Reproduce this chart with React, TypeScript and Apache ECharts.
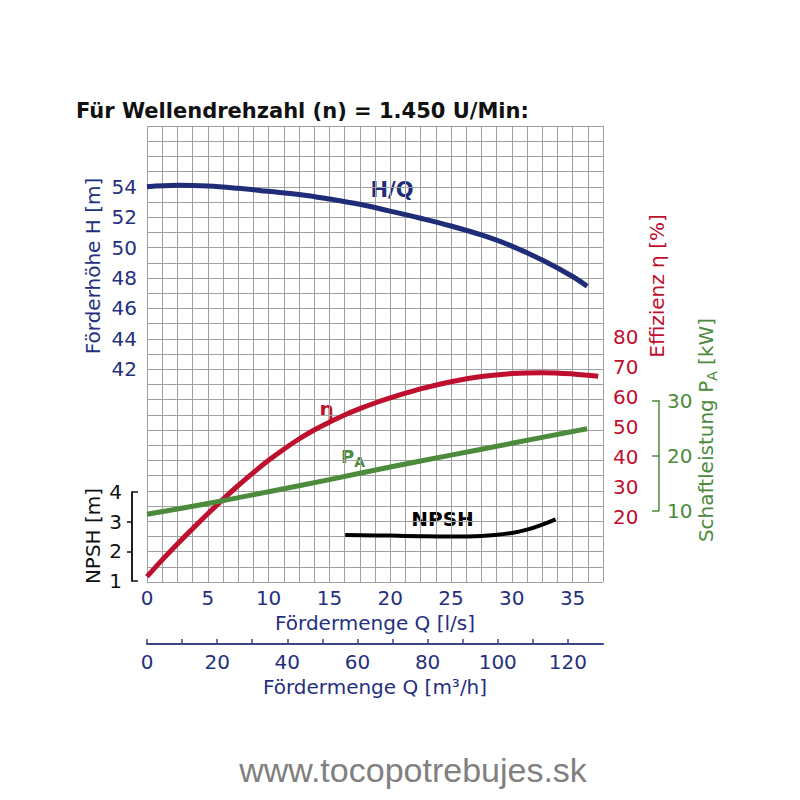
import React, { useEffect, useRef } from "react";
import * as echarts from "echarts";

// ---- data ----
const hqFlow = [0, 2.5, 5, 7.5, 10, 12.5, 15, 17.5, 20, 22.5, 25, 27.5, 30, 32.5, 35, 36.2];
const hqHead = [54.0, 54.1, 54.05, 53.9, 53.7, 53.5, 53.2, 52.85, 52.4, 51.93, 51.42, 50.83, 50.1, 49.18, 48.1, 47.45];

const effFlow = [0, 1.25, 2.5, 3.75, 5, 6.25, 7.5, 8.75, 10, 11.25, 12.5, 13.75, 15, 16.25, 17.5, 18.75, 20, 22.5, 25, 27.5, 30, 32.5, 35, 37.1];
const effValue = [0, 5.6, 10.9, 16.0, 21.0, 25.8, 30.4, 34.7, 38.8, 42.5, 45.9, 48.9, 51.5, 53.9, 56.0, 57.9, 59.6, 62.6, 65.0, 66.7, 67.7, 68.0, 67.6, 66.8];

const powerFlow = [0, 5, 10, 15, 20, 25, 30, 35, 36.2];
const powerKw = [9.35, 11.3, 13.45, 15.65, 17.95, 20.1, 22.25, 24.4, 24.9];

const npshFlow = [16.3, 20, 22.5, 25, 27.5, 30, 31.25, 32.5, 33.6];
const npshM = [2.55, 2.53, 2.51, 2.5, 2.52, 2.62, 2.73, 2.9, 3.08];

const headTicks = [42, 44, 46, 48, 50, 52, 54];
const effTicks = [20, 30, 40, 50, 60, 70, 80];
const powerTicks = [10, 20, 30];
const npshTicks = [1, 2, 3, 4];
const flowLsTicks = [0, 5, 10, 15, 20, 25, 30, 35];
const flowM3hTicks = [0, 20, 40, 60, 80, 100, 120];
const flowM3hMinorTicks = [0, 10, 20, 30, 40, 50, 60, 70, 80, 90, 100, 110, 120];

const NAVY = "#24307f";
const NAVY_LINE = "#1f2d78";
const RED = "#bf0f2f";
const GREEN = "#4b8b3b";
const GRID = "#a0a0a0";
const FONT = "DejaVu Sans";

const zip = (xs: number[], ys: number[]) => xs.map((x, i) => [x, ys[i]]);
const inList = (list: number[]) => (v: number) =>
  list.some((t) => Math.abs(t - v) < 1e-6) ? String(v) : "";

export default function App() {
  const ref = useRef<HTMLDivElement>(null);

  useEffect(() => {
    if (!ref.current) return;
    const chart = echarts.init(ref.current, null, { renderer: "svg" });

    const hiddenX = (gridIndex: number) => ({
      type: "value",
      gridIndex,
      min: 0,
      max: 37.5,
      show: false,
    });

    const option: any = {
      animation: false,
      backgroundColor: "#ffffff",
      textStyle: { fontFamily: FONT },
      grid: [
        { left: 147, top: 126, width: 456, height: 456 },
        { left: 147, top: 336.7, width: 456, height: 180 },
        { left: 147, top: 400.7, width: 456, height: 110 },
        { left: 147, top: 492, width: 456, height: 89 },
      ],
      xAxis: [
        {
          type: "value",
          gridIndex: 0,
          min: 0,
          max: 37.5,
          interval: 1.25,
          axisLine: { show: false },
          axisTick: { show: false },
          splitLine: { show: true, lineStyle: { color: GRID, width: 1 } },
          axisLabel: {
            customValues: flowLsTicks,
            formatter: inList(flowLsTicks),
            color: NAVY,
            fontSize: 20,
            fontFamily: FONT,
            margin: 6,
          },
          name: "Fördermenge Q [l/s]",
          nameLocation: "middle",
          nameGap: 31,
          nameTextStyle: { color: NAVY, fontSize: 20, fontFamily: FONT },
        },
        {
          type: "value",
          gridIndex: 0,
          position: "bottom",
          offset: 62,
          min: 0,
          max: 130,
          interval: 10,
          axisLine: { show: true, onZero: false, lineStyle: { color: "#3a4582", width: 2 } },
          axisTick: {
            show: true,
            inside: true,
            length: 5,
            customValues: flowM3hMinorTicks,
            lineStyle: { color: "#3a4582", width: 1.5 },
          },
          splitLine: { show: false },
          axisLabel: {
            customValues: flowM3hTicks,
            formatter: inList(flowM3hTicks),
            color: NAVY,
            fontSize: 20,
            fontFamily: FONT,
            margin: 8,
          },
          name: "Fördermenge Q [m³/h]",
          nameLocation: "middle",
          nameGap: 30,
          nameTextStyle: { color: NAVY, fontSize: 20, fontFamily: FONT },
        },
        hiddenX(1),
        hiddenX(2),
        hiddenX(3),
      ],
      yAxis: [
        {
          type: "value",
          gridIndex: 0,
          min: 28,
          max: 58,
          interval: 1,
          axisLine: { show: false, onZero: false },
          axisTick: { show: false },
          splitLine: { show: true, lineStyle: { color: GRID, width: 1 } },
          axisLabel: {
            customValues: headTicks,
            formatter: inList(headTicks),
            color: NAVY,
            fontSize: 20,
            fontFamily: FONT,
            margin: 10,
          },
        },
        {
          type: "value",
          gridIndex: 1,
          position: "right",
          min: 20,
          max: 80,
          interval: 10,
          axisLine: { show: false, onZero: false },
          axisTick: { show: false },
          splitLine: { show: false },
          axisLabel: {
            customValues: effTicks,
            color: RED,
            fontSize: 20,
            fontFamily: FONT,
            margin: 10,
          },
        },
        {
          type: "value",
          gridIndex: 2,
          position: "right",
          offset: 56,
          min: 10,
          max: 30,
          interval: 10,
          axisLine: { show: true, onZero: false, lineStyle: { color: GREEN, width: 1.5 } },
          axisTick: { show: true, inside: true, length: 7, lineStyle: { color: GREEN, width: 1.5 } },
          splitLine: { show: false },
          axisLabel: {
            customValues: powerTicks,
            color: GREEN,
            fontSize: 20,
            fontFamily: FONT,
            margin: 8,
          },
        },
        {
          type: "value",
          gridIndex: 3,
          position: "left",
          offset: 15,
          min: 1,
          max: 4,
          interval: 1,
          axisLine: { show: true, onZero: false, lineStyle: { color: "#111", width: 1.5 } },
          axisTick: { show: true, inside: false, length: 5, customValues: [2, 3], lineStyle: { color: "#111", width: 1.5 } },
          splitLine: { show: false },
          axisLabel: {
            customValues: npshTicks,
            color: "#111",
            fontSize: 20,
            fontFamily: FONT,
            margin: 10,
          },
        },
        {
          type: "value",
          gridIndex: 3,
          position: "left",
          offset: 15,
          min: 1,
          max: 4,
          interval: 1,
          axisLine: { show: true, onZero: false, lineStyle: { color: "#111", width: 1.5 } },
          axisTick: { show: true, inside: true, length: 6, customValues: [1, 4], lineStyle: { color: "#111", width: 1.5 } },
          splitLine: { show: false },
          axisLabel: { show: false },
        },
      ],
      series: [
        {
          name: "H/Q",
          type: "line",
          xAxisIndex: 0,
          yAxisIndex: 0,
          data: zip(hqFlow, hqHead),
          smooth: 0.4,
          symbol: "none",
          lineStyle: { color: NAVY_LINE, width: 5, cap: "butt" },
        },
        {
          name: "η",
          type: "line",
          xAxisIndex: 2,
          yAxisIndex: 1,
          data: zip(effFlow, effValue),
          smooth: 0.4,
          clip: false,
          symbol: "none",
          lineStyle: { color: RED, width: 5, cap: "butt" },
        },
        {
          name: "PA",
          type: "line",
          xAxisIndex: 3,
          yAxisIndex: 2,
          data: zip(powerFlow, powerKw),
          smooth: 0.4,
          clip: false,
          symbol: "none",
          lineStyle: { color: GREEN, width: 5, cap: "butt" },
        },
        {
          name: "NPSH",
          type: "line",
          xAxisIndex: 4,
          yAxisIndex: 3,
          data: zip(npshFlow, npshM),
          smooth: 0.4,
          clip: false,
          symbol: "none",
          lineStyle: { color: "#000", width: 4, cap: "butt" },
        },
      ],
      graphic: [
        {
          type: "text",
          x: 76,
          y: 111,
          style: {
            text: "Für Wellendrehzahl (n) = 1.450 U/Min:",
            fill: "#111",
            font: `bold 21px "${FONT}"`,
            textAlign: "left",
            textVerticalAlign: "middle",
          },
        },
        {
          type: "text",
          x: 93,
          y: 266,
          rotation: Math.PI / 2,
          style: {
            text: "Förderhöhe H [m]",
            fill: NAVY,
            font: `20px "${FONT}"`,
            textAlign: "center",
            textVerticalAlign: "middle",
          },
        },
        {
          type: "text",
          x: 93,
          y: 536,
          rotation: Math.PI / 2,
          style: {
            text: "NPSH [m]",
            fill: "#111",
            font: `20px "${FONT}"`,
            textAlign: "center",
            textVerticalAlign: "middle",
          },
        },
        {
          type: "text",
          x: 657,
          y: 286,
          rotation: Math.PI / 2,
          style: {
            text: "Effizienz η [%]",
            fill: RED,
            font: `20px "${FONT}"`,
            textAlign: "center",
            textVerticalAlign: "middle",
          },
        },
        {
          type: "text",
          x: 706,
          y: 430,
          rotation: Math.PI / 2,
          style: {
            text: "{m|Schaftleistung P}{s|A}{m| [kW]}",
            textAlign: "center",
            textVerticalAlign: "middle",
            lineHeight: 26,
            rich: {
              m: { fontSize: 20, fontFamily: FONT, fill: GREEN, verticalAlign: "middle", lineHeight: 26 },
              s: { fontSize: 14, fontFamily: FONT, fill: GREEN, verticalAlign: "bottom", lineHeight: 16 },
            },
          },
        },
        {
          type: "text",
          x: 392,
          y: 190,
          style: {
            text: "H/Q",
            fill: NAVY_LINE,
            font: `bold 21px "${FONT}"`,
            textAlign: "center",
            textVerticalAlign: "middle",
          },
        },
        {
          type: "text",
          x: 326.5,
          y: 409,
          style: {
            text: "η",
            fill: RED,
            font: `bold 20px "${FONT}"`,
            textAlign: "center",
            textVerticalAlign: "middle",
          },
        },
        {
          type: "text",
          x: 341,
          y: 456,
          style: {
            text: "{p|P}{a|A}",
            textAlign: "left",
            textVerticalAlign: "middle",
            lineHeight: 26,
            rich: {
              p: { fontSize: 18, fontWeight: "bold", fontFamily: FONT, fill: GREEN, verticalAlign: "middle", lineHeight: 26 },
              a: { fontSize: 14, fontWeight: "bold", fontFamily: FONT, fill: GREEN, verticalAlign: "bottom", lineHeight: 14 },
            },
          },
        },
        {
          type: "text",
          x: 442.5,
          y: 519,
          style: {
            text: "NPSH",
            fill: "#000",
            font: `bold 20px "${FONT}"`,
            textAlign: "center",
            textVerticalAlign: "middle",
          },
        },
        {
          type: "text",
          x: 413,
          y: 770,
          style: {
            text: "www.tocopotrebujes.sk",
            fill: "#808080",
            font: `34px "Liberation Sans"`,
            textAlign: "center",
            textVerticalAlign: "middle",
          },
        },
      ],
    };

    chart.setOption(option);
    return () => chart.dispose();
  }, []);

  return (
    <div
      ref={ref}
      style={{ position: "fixed", left: 0, top: 0, width: 800, height: 800 }}
    />
  );
}
